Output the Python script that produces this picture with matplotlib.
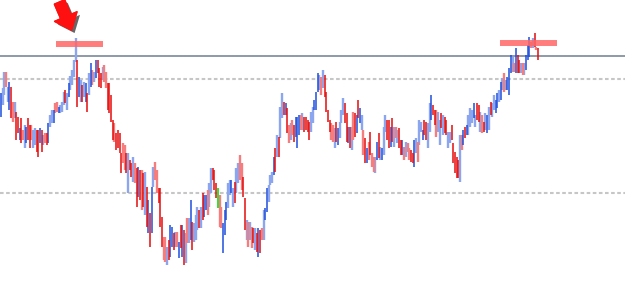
import matplotlib
matplotlib.use("Agg")
import matplotlib.pyplot as plt
import matplotlib.patheffects as pe
import matplotlib.transforms as mtransforms
import numpy as np

plt.rcParams['lines.scale_dashes'] = False

# ---- data: bar highs / lows (price units) ----
highs = [
    207, 212, 228, 228, 213, 218, 213, 198, 198, 188,
    183, 172, 182, 170, 175, 173, 182, 175, 175, 170,
    172, 170, 170, 172, 170, 165, 167, 167, 177, 185,
    190, 190, 197, 198, 193, 195, 198, 208, 210, 207,
    217, 224, 230, 240, 262, 240, 223, 220, 215, 218,
    217, 207, 227, 237, 230, 228, 240, 240, 232, 227,
    233, 235, 228, 217, 217, 205, 180, 177, 167, 170,
    167, 147, 157, 155, 147, 147, 140, 137, 143, 137,
    132, 133, 130, 130, 127, 128, 113, 100, 87, 113,
    133, 138, 130, 112, 112, 83, 63, 63, 53, 60,
    75, 73, 67, 68, 68, 58, 75, 75, 70, 67,
    82, 82, 100, 78, 77, 85, 93, 90, 93, 107,
    105, 105, 110, 117, 132, 132, 130, 117, 112, 105,
    93, 77, 90, 98, 117, 120, 120, 112, 118, 132,
    137, 145, 137, 123, 102, 80, 78, 78, 73, 72,
    72, 67, 72, 70, 72, 90, 92, 112, 115, 125,
    128, 143, 152, 165, 163, 193, 207, 198, 197, 192,
    175, 177, 180, 175, 183, 183, 185, 185, 187, 183,
    183, 180, 178, 188, 193, 200, 208, 227, 225, 223,
    230, 225, 208, 190, 180, 177, 175, 172, 178, 172,
    178, 190, 202, 197, 187, 173, 173, 173, 188, 187,
    185, 200, 192, 185, 170, 162, 152, 158, 168, 147,
    143, 143, 158, 167, 153, 152, 173, 185, 180, 180,
    173, 182, 173, 173, 170, 172, 160, 160, 153, 158,
    157, 152, 150, 147, 160, 162, 158, 180, 178, 170,
    180, 178, 177, 197, 205, 195, 190, 190, 188, 180,
    187, 185, 183, 180, 168, 168, 175, 157, 148, 143,
    140, 165, 165, 170, 173, 175, 185, 192, 190, 197,
    185, 197, 195, 188, 185, 178, 187, 185, 193, 198,
    197, 205, 200, 207, 210, 218, 222, 227, 220, 223,
    232, 245, 243, 237, 252, 245, 240, 237, 237, 237,
    245, 255, 263, 258, 262, 267, 253, 252,
]
lows = [
    183, 195, 205, 213, 198, 190, 182, 178, 182, 160,
    167, 160, 157, 160, 152, 157, 160, 152, 160, 152,
    155, 148, 143, 157, 148, 155, 157, 155, 157, 173,
    177, 177, 187, 188, 187, 187, 188, 195, 197, 190,
    203, 210, 215, 223, 238, 193, 203, 198, 198, 203,
    198, 188, 205, 213, 215, 218, 222, 227, 213, 212,
    220, 218, 212, 190, 187, 178, 160, 158, 150, 152,
    147, 127, 137, 130, 127, 107, 130, 123, 118, 117,
    93, 103, 100, 90, 93, 85, 73, 67, 53, 67,
    113, 120, 107, 97, 73, 53, 40, 38, 35, 40,
    43, 53, 50, 53, 53, 42, 52, 43, 35, 37,
    57, 57, 60, 50, 58, 60, 70, 72, 72, 80,
    83, 90, 85, 93, 107, 120, 110, 102, 92, 73,
    72, 47, 65, 80, 92, 105, 107, 93, 97, 107,
    117, 120, 110, 103, 70, 60, 53, 60, 52, 57,
    50, 48, 43, 47, 60, 60, 80, 88, 98, 115,
    117, 125, 128, 143, 143, 162, 182, 185, 185, 167,
    157, 160, 165, 158, 163, 152, 165, 170, 170, 168,
    170, 168, 160, 168, 177, 190, 190, 208, 210, 205,
    212, 203, 188, 178, 168, 160, 158, 152, 158, 155,
    162, 177, 185, 177, 158, 157, 152, 150, 160, 163,
    167, 182, 177, 170, 145, 137, 137, 140, 145, 133,
    128, 127, 140, 142, 140, 140, 145, 168, 160, 152,
    153, 158, 153, 162, 157, 152, 145, 145, 140, 143,
    148, 140, 138, 137, 133, 147, 138, 155, 168, 160,
    165, 160, 152, 168, 180, 185, 175, 163, 168, 155,
    172, 165, 167, 165, 152, 157, 160, 137, 127, 122,
    122, 118, 150, 155, 162, 165, 165, 173, 177, 182,
    173, 180, 178, 168, 167, 168, 170, 167, 170, 185,
    183, 190, 187, 192, 198, 200, 210, 208, 210, 210,
    205, 227, 228, 228, 227, 227, 227, 227, 225, 225,
    230, 240, 243, 252, 252, 253, 250, 240,
]
# b = up (blue), r = down (red), B / R = lighter wide bars, g = green
bar_types = (
    "bBBRBbrRBr" "rbrRBbrrRB" "BrrbrBRrbB" "BbRRbBBBrB"
    "bBBBBrbBrB" "brBbRBbrrr" "BRRrrrrRrr" "rrRRrBrrBR"
    "rbrRrBrbrb" "BRRrrrRRBr" "bbrBRbrbrB" "RBbrBBBrBr"
    "bbRBBrrrgR" "RbbbBBbBrB" "BRRrrBRBRr" "BrbrRBbbBB"
    "BbrBrBBrbr" "RBRrbbbRBr" "rrrBBbbbBR" "BrrrrRRBrb"
    "BBBrrbrBRr" "brbBRrbRrR" "RBbrBbBBrr" "brBRBrrbRB"
    "RRrrbBRBBb" "rrBBbrrRBB" "rBrrBBrrrr" "rBRbrbBBBb"
    "BrrBRrBbBr" "BBbbBbBRBb" "bbBRbrrBRB" "bbbRBrRr"
)

support_res_levels = [244]          # solid horizontal line
dashed_levels = [221.5, 107]        # dotted levels
zone_level = [256.5, 257.5]         # red resistance zones
zone_start = [32.5, 294.6]
zone_end = [60.2, 328.2]

# ---- figure ----
fig = plt.figure(figsize=(6.25, 2.95), dpi=100)
ax = fig.add_axes([0, 0, 1, 1])
ax.set_facecolor("white")
ax.axis("off")

n = len(highs)
x = np.arange(n)
highs_a = np.array(highs)
lows_a = np.array(lows)
types = np.array(list(bar_types))

styles = {
    "B": dict(color="#8ba6ee", lw=1.7, z=2),
    "R": dict(color="#f67d7d", lw=1.7, z=2),
    "b": dict(color="#1f4fdc", lw=1.1, z=3),
    "r": dict(color="#e60c0c", lw=1.1, z=3),
    "g": dict(color="#22dd22", lw=1.3, z=3),
}
for key, st in styles.items():
    m = types == key
    ax.vlines(x[m], lows_a[m], highs_a[m], colors=st["color"],
              linewidths=st["lw"], zorder=st["z"])

for lv in support_res_levels:
    ax.axhline(lv, color="#8d9aa8", lw=1.4, zorder=1)
for lv in dashed_levels:
    ax.axhline(lv, color="#c6c6c6", lw=1.5, dashes=(2.6, 1.8), zorder=1)

for lv, s, e in zip(zone_level, zone_start, zone_end):
    ax.hlines(lv, s, e, colors="#ff6666", linewidths=4.3, alpha=0.85,
              zorder=4)

# arrow pointing at the left peak
peak_i = int(np.argmax(highs_a[:100]))
tip = mtransforms.offset_copy(ax.transData, fig=fig, x=-4, y=8,
                              units="dots")
ax.annotate("", xy=(peak_i, highs_a[peak_i]), xycoords=tip,
            xytext=(-12, 28), textcoords="offset pixels",
            arrowprops=dict(arrowstyle="simple,head_length=1.05,"
                                       "head_width=1.75,tail_width=0.8",
                            color="#ff1010", mutation_scale=10,
                            shrinkA=0, shrinkB=0,
                            path_effects=[pe.withSimplePatchShadow(
                                offset=(2.2, -2.2), shadow_rgbFace="black",
                                alpha=0.6), pe.Normal()]),
            zorder=6)

ax.set_xlim(-0.59, 368.4)
ax.set_ylim(5, 300)

fig.savefig("out.png", dpi=100, facecolor="white")
